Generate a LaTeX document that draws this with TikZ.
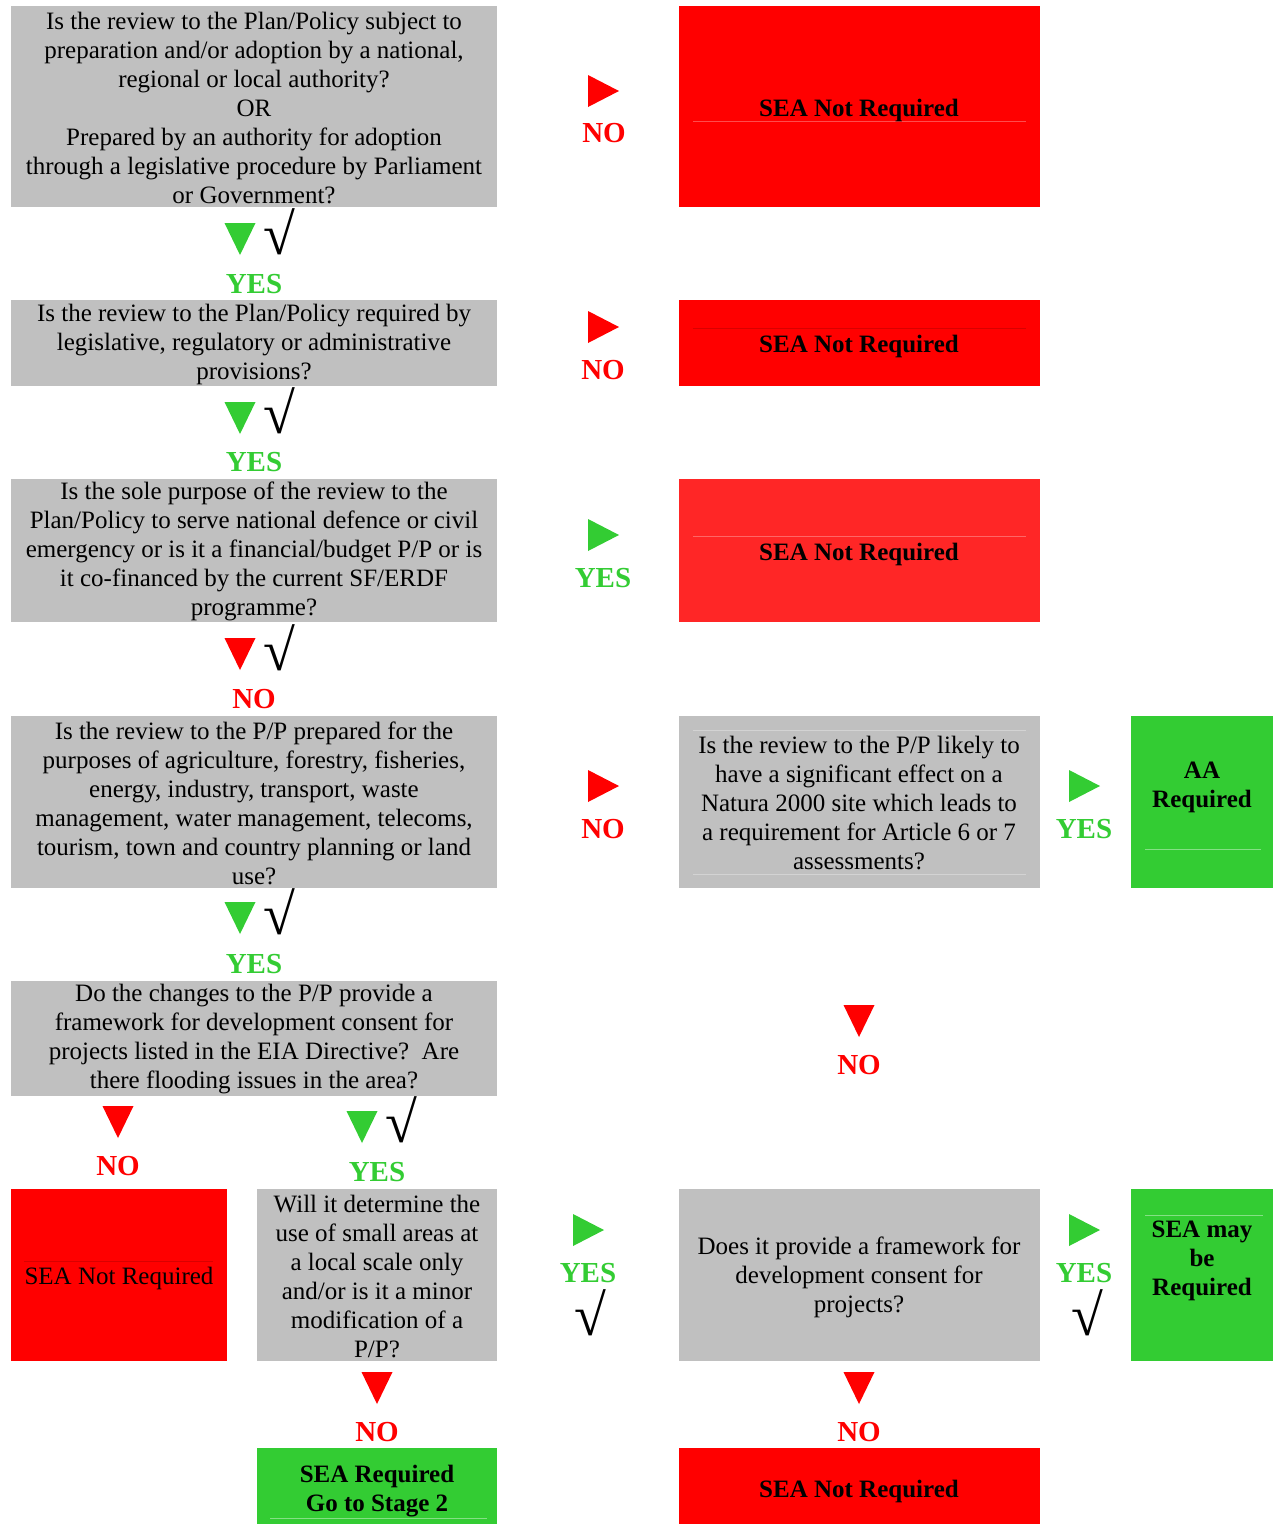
\documentclass[tikz,border=0pt]{standalone}
\usepackage{fontspec}
\setmainfont{Liberation Serif}
\definecolor{boxgrey}{HTML}{C0C0C0}
\definecolor{sred}{HTML}{FF0000}
\definecolor{lred}{HTML}{FF2626}
\definecolor{sgreen}{HTML}{33CC33}
\tikzset{
  box/.style={anchor=north west, inner sep=0pt, outer sep=0pt, draw=none},
  qbox/.style={box, fill=boxgrey},
  rbox/.style={box, fill=sred},
  lrbox/.style={box, fill=lred},
  gbox/.style={box, fill=sgreen},
  txt/.style={align=center, inner sep=0pt, font=\fontsize{25}{29}\selectfont},
  btxt/.style={align=center, inner sep=0pt, yshift=-2pt, font=\fontsize{25}{29}\selectfont\bfseries},
  lbl/.style={inner sep=0pt, font=\fontsize{29}{29}\selectfont\bfseries},
  nolbl/.style={lbl, text=sred},
  yeslbl/.style={lbl, text=sgreen},
  chk/.style={inner sep=0pt, font=\fontsize{58}{58}\selectfont},
  faint/.style={line width=0.7pt},
}
\newcommand\tridown[3]{\fill[#3] (#1-15.5,#2-16) -- (#1+15.5,#2-16) -- (#1,#2+16) -- cycle;}
\newcommand\triright[3]{\fill[#3] (#1-15,#2-16) -- (#1+16,#2) -- (#1-15,#2+16) -- cycle;}
\begin{document}
\begin{tikzpicture}[x=1pt,y=-1pt]
\useasboundingbox (0,0) rectangle (1279,1524);
\fill[white] (0,0) rectangle (1279,1524);

% ---- boxes ----
\node[qbox, minimum width=486pt, minimum height=201pt] (q1) at (11,6) {};
\node[rbox, minimum width=361pt, minimum height=201pt] (r1) at (679,6) {};
\node[qbox, minimum width=486pt, minimum height=86pt] (q2) at (11,300) {};
\node[rbox, minimum width=361pt, minimum height=86pt] (r2) at (679,300) {};
\node[qbox, minimum width=486pt, minimum height=143pt] (q3) at (11,479) {};
\node[lrbox, minimum width=361pt, minimum height=143pt] (r3) at (679,479) {};
\node[qbox, minimum width=486pt, minimum height=172pt] (q4) at (11,716) {};
\node[qbox, minimum width=361pt, minimum height=172pt] (q5) at (679,716) {};
\node[gbox, minimum width=142pt, minimum height=172pt] (aa) at (1131,716) {};
\node[qbox, minimum width=486pt, minimum height=115pt] (q6) at (11,981) {};
\node[rbox, minimum width=216pt, minimum height=172pt] (r4) at (11,1189) {};
\node[qbox, minimum width=240pt, minimum height=172pt] (q7) at (257,1189) {};
\node[qbox, minimum width=361pt, minimum height=172pt] (q8) at (679,1189) {};
\node[gbox, minimum width=142pt, minimum height=172pt] (may) at (1131,1189) {};
\node[gbox, minimum width=240pt, minimum height=76pt] (req) at (257,1448) {};
\node[rbox, minimum width=361pt, minimum height=76pt] (r5) at (679,1448) {};

% ---- faint lines inside boxes ----
\draw[faint, draw=red!70!white] (693,121) -- (1026,121);
\draw[faint, draw=red!85!black] (693,328) -- (1026,328);
\draw[faint, draw=red!60!white] (693,536) -- (1026,536);
\draw[faint, draw=boxgrey!70!white] (693,730) -- (1026,730);
\draw[faint, draw=boxgrey!70!white] (693,874) -- (1026,874);
\draw[faint, draw=sgreen!60!white] (1145,849) -- (1261,849);
\draw[faint, draw=red!85!black] (24,1261) -- (213,1261);
\draw[faint, draw=sgreen!60!white] (1145,1215) -- (1263,1215);
\draw[faint, draw=sgreen!60!white] (270,1518) -- (487,1518);

% ---- texts ----
\node[txt] (q1t) at (254,108) {Is the review to the Plan/Policy subject to\\preparation and/or adoption by a national,\\regional or local authority?\\OR\\Prepared by an authority for adoption\\through a legislative procedure by Parliament\\or Government?};
\node[btxt] (r1t) at (859,108) {SEA Not Required};
\node[txt] (q2t) at (254,344) {Is the review to the Plan/Policy required by\\legislative, regulatory or administrative\\provisions?};
\node[btxt] (r2t) at (859,344) {SEA Not Required};
\node[txt] (q3t) at (254,551.5) {Is the sole purpose of the review to the\\Plan/Policy to serve national defence or civil\\emergency or is it a financial/budget P/P or is\\it co-financed by the current SF/ERDF\\programme?};
\node[btxt] (r3t) at (859,552) {SEA Not Required};
\node[txt] (q4t) at (254,803) {Is the review to the P/P prepared for the\\purposes of agriculture, forestry, fisheries,\\energy, industry, transport, waste\\management, water management, telecoms,\\tourism, town and country planning or land\\use?};
\node[txt] (q5t) at (859,803) {Is the review to the P/P likely to\\have a significant effect on a\\Natura 2000 site which leads to\\a requirement for Article 6 or 7\\assessments?};
\node[btxt] (aat) at (1202,785) {AA\\Required};
\node[txt] (q6t) at (254,1039.5) {Do the changes to the P/P provide a\\framework for development consent for\\projects listed in the EIA Directive?\ \ Are\\there flooding issues in the area?};
\node[txt, yshift=-2pt] (r4t) at (119,1276) {SEA Not Required};
\node[txt] (q7t) at (377,1276) {Will it determine the\\use of small areas at\\a local scale only\\and/or is it a minor\\modification of a\\P/P?};
\node[txt] (q8t) at (859,1277) {Does it provide a framework for\\development consent for\\projects?};
\node[btxt] (mayt) at (1202,1259) {SEA may\\be\\Required};
\node[btxt] (reqt) at (377,1489.5) {SEA Required\\Go to Stage 2};
\node[btxt] (r5t) at (859,1489) {SEA Not Required};

% ---- markers: triangles ----
\triright{603}{91}{sred}
\triright{603}{327}{sred}
\triright{603}{535}{sgreen}
\triright{603}{786}{sred}
\triright{1084}{786}{sgreen}
\triright{588}{1230}{sgreen}
\triright{1084}{1230}{sgreen}
\tridown{240}{239}{sgreen}
\tridown{240}{418}{sgreen}
\tridown{240}{654}{sred}
\tridown{240}{918}{sgreen}
\tridown{859}{1021}{sred}
\tridown{118}{1122}{sred}
\tridown{362}{1127}{sgreen}
\tridown{377}{1388}{sred}
\tridown{859}{1388}{sred}

% ---- labels ----
\node[nolbl] (l1) at (604,133) {NO};
\node[nolbl] (l2) at (603,370) {NO};
\node[yeslbl] (l3) at (603,578) {YES};
\node[nolbl] (l4) at (603,829) {NO};
\node[yeslbl] (l5) at (1084,829) {YES};
\node[yeslbl] (l6) at (254,284) {YES};
\node[yeslbl] (l7) at (254,462) {YES};
\node[nolbl] (l8) at (254,699) {NO};
\node[yeslbl] (l9) at (254,964) {YES};
\node[nolbl] (l10) at (859,1065) {NO};
\node[nolbl] (l11) at (118,1166) {NO};
\node[yeslbl] (l12) at (377,1172) {YES};
\node[yeslbl] (l13) at (588,1273) {YES};
\node[yeslbl] (l14) at (1084,1273) {YES};
\node[nolbl] (l15) at (377,1432) {NO};
\node[nolbl] (l16) at (859,1432) {NO};

% ---- check marks ----
\node[chk] (c1) at (279,232) {√};
\node[chk] (c2) at (279,411) {√};
\node[chk] (c3) at (279,648) {√};
\node[chk] (c4) at (279,912) {√};
\node[chk] (c5) at (401,1120) {√};
\node[chk] (c6) at (590,1313) {√};
\node[chk] (c7) at (1087,1313) {√};
\end{tikzpicture}
\end{document}
